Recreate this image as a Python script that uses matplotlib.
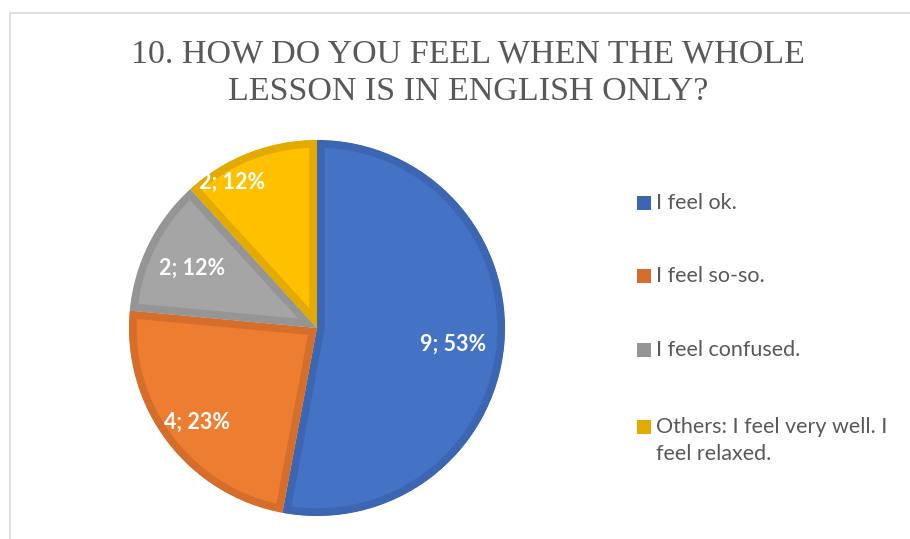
import matplotlib.pyplot as plt
from matplotlib.patches import Rectangle
import numpy as np

# data
labels = ['I feel ok.', 'I feel so-so.', 'I feel confused.',
          'Others: I feel very well. I\nfeel relaxed.']
counts = [9, 4, 2, 2]
pcts = [53, 23, 12, 12]  # as printed on the chart
fills = ['#4472C4', '#ED7D31', '#A5A5A5', '#FFC000']
edges = ['#3C66B2', '#D66E2B', '#959595', '#E3AB00']

W, H = 910, 539
fig = plt.figure(figsize=(W / 100, H / 100), dpi=100)

def fx(px):
    return px / W

def fy(py):
    return 1 - py / H

# chart frame (light border on top/left)
fig.patches.append(Rectangle((fx(10), fy(560)), fx(920), fy(13) - fy(560),
                             transform=fig.transFigure, fill=False,
                             edgecolor='#d9d9d9', linewidth=1.2))

fig.text(fx(468), fy(39), '10. HOW DO YOU FEEL WHEN THE WHOLE\nLESSON IS IN ENGLISH ONLY?',
         ha='center', va='top', fontsize=24.5, color='#595959',
         family='Liberation Serif', linespacing=1.28)

# pie: centre (317, 328) px, radius 188 px
cx, cy, r = 317, 328, 188
ax = fig.add_axes([fx(cx - r), fy(cy + r), fx(2 * r), fy(cy - r) - fy(cy + r)])
wedges, _ = ax.pie(counts, colors=fills, startangle=90, counterclock=False,
                   radius=1, wedgeprops=dict(linewidth=11))
for w, ec in zip(wedges, edges):
    w.set_edgecolor(ec)
    # keep the border inside each slice
    w.set_clip_on(True)
    w.set_clip_path(w.get_path(), w.get_transform())
ax.set_xlim(-1, 1)
ax.set_ylim(-1, 1)

# label placement (radius, angle offset in degrees) per slice
lab_pos = [(0.73, -1.5), (0.81, 1.0), (0.735, 1.0), (0.90, 9.0)]
for w, n, p, (rad, off) in zip(wedges, counts, pcts, lab_pos):
    mid = np.deg2rad((w.theta1 + w.theta2) / 2 + off)
    ax.text(rad * np.cos(mid), rad * np.sin(mid), f'{n}; {p}%',
            ha='center', va='center', color='white', fontsize=15.5,
            fontweight='bold', family='Lato')

# legend
rows = [203, 276, 350, 427]
for lab, ec, y in zip(labels, edges, rows):
    fig.patches.append(Rectangle((fx(637), fy(y + 7)), fx(14), fy(y - 7) - fy(y + 7),
                                 transform=fig.transFigure, facecolor=ec,
                                 edgecolor='none'))
    for i, line in enumerate(lab.split('\n')):
        fig.text(fx(656), fy(y + 27 * i), line, ha='left', va='center',
                 fontsize=15.5, color='#595959', family='Lato')

fig.savefig('out.png', dpi=100)
